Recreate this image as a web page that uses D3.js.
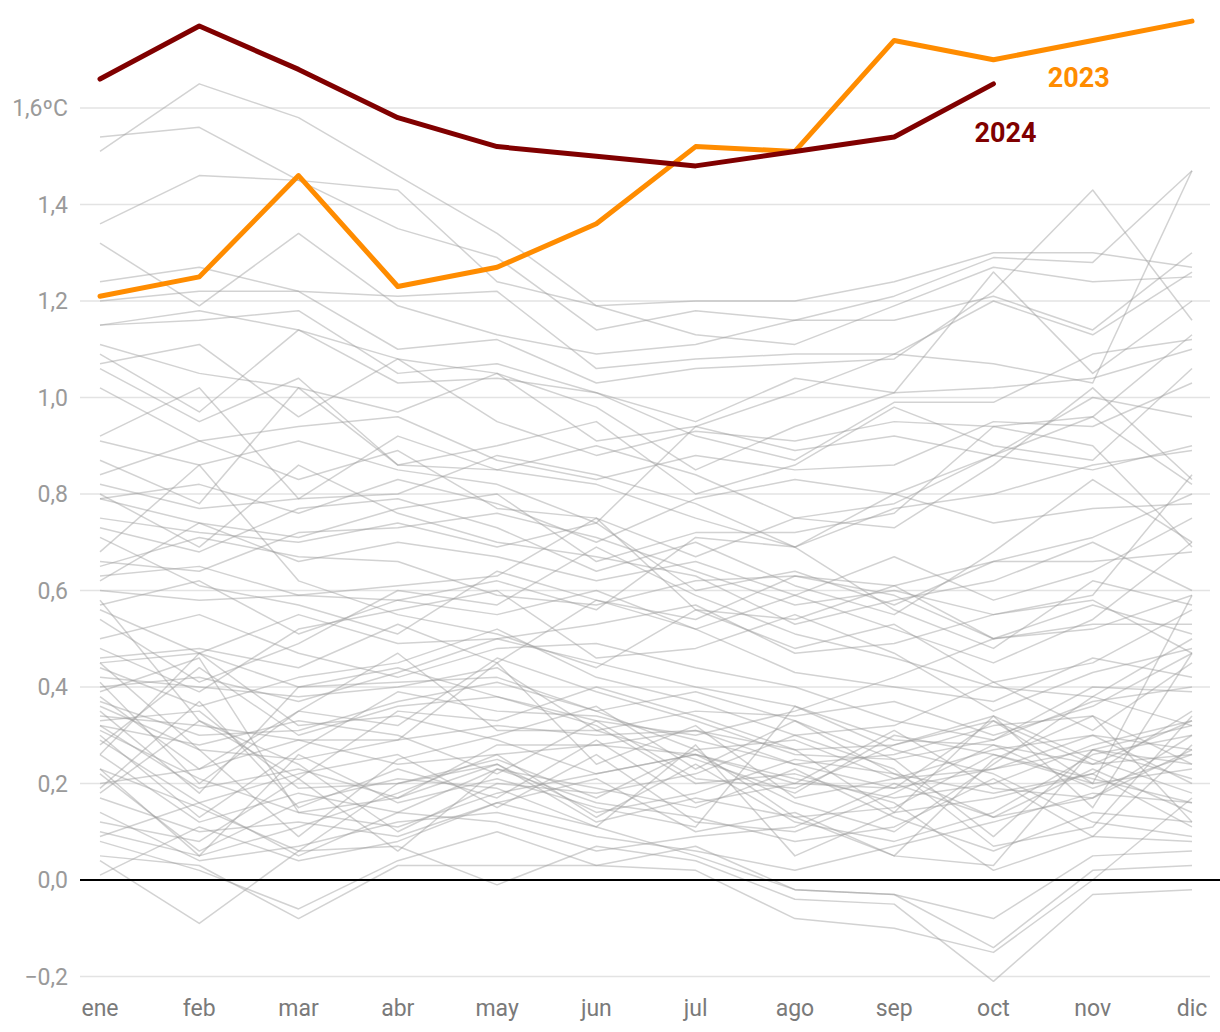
<!DOCTYPE html>
<html>
<head>
<meta charset="utf-8">
<script src="https://cdn.jsdelivr.net/npm/d3@7"></script>
<style>
  html, body { margin: 0; padding: 0; background: #fff; }
  svg { display: block; font-family: Roboto, "Noto Sans", sans-serif; }
</style>
</head>
<body>
<svg id="chart" width="1220" height="1032"></svg>
<script>
const months = ["ene","feb","mar","abr","may","jun","jul","ago","sep","oct","nov","dic"];
const yTicks = [-0.2, 0, 0.2, 0.4, 0.6, 0.8, 1.0, 1.2, 1.4, 1.6];
const yTickLabels = ["\u22120,2","0,0","0,2","0,4","0,6","0,8","1,0","1,2","1,4","1,6ºC"];

const values2023 = [1.21, 1.25, 1.46, 1.23, 1.27, 1.36, 1.52, 1.51, 1.74, 1.70, 1.74, 1.78];
const values2024 = [1.66, 1.77, 1.68, 1.58, 1.52, 1.50, 1.48, 1.51, 1.54, 1.65];

// Earlier years (grey background lines), ene..dic
const earlierYears = [
  [1.51, 1.65, 1.58, 1.46, 1.34, 1.19, 1.20, 1.20, 1.24, 1.30, 1.30, 1.27],
  [1.54, 1.56, 1.45, 1.35, 1.29, 1.14, 1.18, 1.16, 1.21, 1.29, 1.28, 1.47],
  [1.36, 1.46, 1.45, 1.43, 1.24, 1.19, 1.13, 1.11, 1.19, 1.27, 1.24, 1.25],
  [1.32, 1.19, 1.34, 1.19, 1.13, 1.09, 1.11, 1.16, 1.16, 1.21, 1.14, 1.30],
  [1.24, 1.27, 1.22, 1.21, 1.22, 1.06, 1.08, 1.09, 1.09, 1.20, 1.13, 1.26],
  [1.20, 1.22, 1.22, 1.10, 1.12, 1.03, 1.06, 1.07, 1.08, 1.22, 1.43, 1.16],
  [1.15, 1.16, 1.18, 1.05, 1.07, 1.01, 0.95, 1.04, 1.01, 1.26, 1.05, 1.20],
  [1.15, 1.18, 1.14, 1.08, 1.05, 0.91, 0.94, 1.01, 1.09, 1.07, 1.03, 1.47],
  [1.11, 1.05, 1.02, 0.97, 1.05, 0.98, 0.85, 0.94, 1.01, 1.02, 1.04, 1.10],
  [1.09, 0.97, 1.14, 1.03, 1.04, 1.01, 0.92, 0.87, 0.99, 0.99, 1.09, 1.12],
  [1.07, 1.11, 0.96, 1.08, 0.95, 0.88, 0.93, 0.91, 0.95, 0.94, 0.96, 1.13],
  [1.06, 0.95, 1.04, 0.86, 0.90, 0.95, 0.80, 0.86, 0.98, 0.90, 0.87, 1.06],
  [1.02, 0.91, 0.94, 0.96, 0.87, 0.83, 0.88, 0.85, 0.86, 0.95, 0.94, 1.03],
  [0.92, 1.02, 0.79, 0.92, 0.85, 0.90, 0.84, 0.75, 0.78, 0.88, 1.00, 0.96],
  [0.91, 0.86, 0.91, 0.85, 0.82, 0.74, 0.94, 0.89, 0.92, 0.88, 0.85, 0.90],
  [0.87, 0.78, 1.02, 0.86, 0.85, 0.82, 0.75, 0.69, 0.77, 0.80, 0.86, 0.89],
  [0.84, 0.91, 0.83, 0.89, 0.77, 0.75, 0.67, 0.75, 0.73, 0.86, 1.02, 0.83],
  [0.82, 0.77, 0.79, 0.80, 0.88, 0.84, 0.78, 0.69, 0.80, 0.74, 0.77, 0.78],
  [0.79, 0.82, 0.76, 0.83, 0.78, 0.70, 0.79, 0.83, 0.80, 0.88, 0.96, 0.82],
  [0.79, 0.74, 0.71, 0.77, 0.80, 0.66, 0.72, 0.72, 0.76, 0.94, 0.90, 0.69],
  [0.80, 0.69, 0.86, 0.76, 0.70, 0.67, 0.63, 0.53, 0.58, 0.62, 0.70, 0.60],
  [0.75, 0.72, 0.70, 0.74, 0.69, 0.74, 0.60, 0.64, 0.57, 0.66, 0.71, 0.80],
  [0.73, 0.68, 0.77, 0.79, 0.73, 0.64, 0.70, 0.61, 0.55, 0.68, 0.83, 0.70],
  [0.66, 0.64, 0.72, 0.73, 0.76, 0.71, 0.64, 0.57, 0.60, 0.55, 0.59, 0.84],
  [0.65, 0.71, 0.67, 0.66, 0.59, 0.57, 0.62, 0.63, 0.59, 0.50, 0.52, 0.59],
  [0.63, 0.65, 0.59, 0.61, 0.63, 0.75, 0.56, 0.54, 0.61, 0.66, 0.66, 0.68],
  [0.62, 0.74, 0.66, 0.70, 0.67, 0.62, 0.66, 0.59, 0.67, 0.58, 0.64, 0.75],
  [0.60, 0.58, 0.59, 0.58, 0.62, 0.56, 0.71, 0.69, 0.56, 0.48, 0.62, 0.57],
  [0.57, 0.62, 0.51, 0.58, 0.55, 0.60, 0.52, 0.59, 0.52, 0.45, 0.54, 0.70],
  [0.56, 0.47, 0.55, 0.49, 0.50, 0.53, 0.57, 0.47, 0.49, 0.55, 0.58, 0.47],
  [0.54, 0.41, 0.49, 0.60, 0.57, 0.69, 0.59, 0.51, 0.46, 0.40, 0.38, 0.50],
  [0.48, 0.39, 0.52, 0.56, 0.60, 0.46, 0.48, 0.55, 0.47, 0.35, 0.43, 0.48],
  [0.46, 0.48, 0.44, 0.53, 0.45, 0.58, 0.52, 0.43, 0.40, 0.37, 0.46, 0.42],
  [0.45, 0.47, 0.40, 0.44, 0.38, 0.33, 0.30, 0.35, 0.42, 0.50, 0.57, 0.51],
  [0.44, 0.36, 0.42, 0.45, 0.52, 0.42, 0.37, 0.30, 0.32, 0.41, 0.31, 0.45],
  [0.42, 0.40, 0.38, 0.40, 0.44, 0.31, 0.35, 0.34, 0.37, 0.30, 0.36, 0.47],
  [0.40, 0.42, 0.37, 0.43, 0.50, 0.45, 0.40, 0.36, 0.29, 0.28, 0.24, 0.33],
  [0.71, 0.61, 0.57, 0.51, 0.64, 0.58, 0.54, 0.63, 0.61, 0.50, 0.53, 0.53],
  [0.68, 0.86, 0.62, 0.55, 0.51, 0.44, 0.56, 0.48, 0.53, 0.41, 0.45, 0.56],
  [0.50, 0.55, 0.47, 0.42, 0.48, 0.49, 0.44, 0.40, 0.33, 0.29, 0.40, 0.39],
  [0.38, 0.23, 0.35, 0.32, 0.46, 0.39, 0.33, 0.26, 0.25, 0.29, 0.37, 0.40],
  [0.37, 0.30, 0.31, 0.37, 0.41, 0.35, 0.27, 0.29, 0.21, 0.27, 0.30, 0.27],
  [0.36, 0.27, 0.25, 0.29, 0.32, 0.30, 0.31, 0.24, 0.19, 0.23, 0.27, 0.32],
  [0.34, 0.32, 0.29, 0.24, 0.26, 0.28, 0.26, 0.21, 0.17, 0.20, 0.28, 0.33],
  [0.33, 0.35, 0.19, 0.20, 0.25, 0.17, 0.27, 0.13, 0.15, 0.26, 0.20, 0.23],
  [0.32, 0.28, 0.33, 0.30, 0.22, 0.33, 0.21, 0.19, 0.28, 0.34, 0.25, 0.18],
  [0.32, 0.19, 0.23, 0.17, 0.24, 0.14, 0.18, 0.25, 0.22, 0.18, 0.22, 0.35],
  [0.31, 0.21, 0.14, 0.11, 0.18, 0.22, 0.26, 0.16, 0.10, 0.24, 0.38, 0.32],
  [0.29, 0.16, 0.22, 0.26, 0.15, 0.26, 0.12, 0.10, 0.18, 0.28, 0.19, 0.26],
  [0.26, 0.12, 0.18, 0.14, 0.23, 0.19, 0.15, 0.23, 0.13, 0.06, 0.14, 0.12],
  [0.23, 0.05, 0.11, 0.18, 0.26, 0.13, 0.24, 0.12, 0.08, 0.14, 0.26, 0.30],
  [0.22, 0.06, 0.16, 0.21, 0.19, 0.11, 0.28, 0.05, 0.14, 0.17, 0.22, 0.11],
  [0.17, 0.10, 0.12, 0.09, 0.16, 0.21, 0.10, 0.14, 0.05, 0.03, 0.27, 0.24],
  [0.14, 0.04, 0.07, 0.12, 0.14, 0.09, 0.06, 0.02, 0.07, 0.12, 0.18, 0.16],
  [0.12, 0.08, 0.21, 0.06, 0.23, 0.16, 0.13, 0.08, 0.11, 0.21, 0.09, 0.08],
  [0.09, 0.16, 0.05, 0.14, 0.12, 0.06, 0.09, 0.11, 0.20, 0.13, 0.17, 0.27],
  [0.08, 0.02, -0.06, 0.04, 0.10, 0.03, 0.07, -0.02, -0.03, -0.08, 0.05, 0.06],
  [0.05, 0.03, -0.08, 0.03, 0.03, 0.03, 0.02, -0.08, -0.10, -0.15, 0.00, 0.17],
  [0.04, -0.09, 0.06, 0.07, -0.01, 0.07, 0.04, -0.04, -0.05, -0.21, -0.03, -0.02],
  [0.01, 0.11, 0.04, 0.08, 0.16, 0.11, 0.05, -0.02, -0.03, -0.14, 0.02, 0.03],
  [0.45, 0.27, 0.09, 0.25, 0.30, 0.36, 0.23, 0.33, 0.25, 0.09, 0.27, 0.21],
  [0.41, 0.20, 0.35, 0.47, 0.31, 0.31, 0.25, 0.18, 0.30, 0.26, 0.21, 0.16],
  [0.39, 0.46, 0.14, 0.17, 0.28, 0.28, 0.31, 0.27, 0.14, 0.34, 0.15, 0.47],
  [0.30, 0.13, 0.27, 0.39, 0.35, 0.34, 0.29, 0.24, 0.26, 0.32, 0.34, 0.12],
  [0.20, 0.23, 0.29, 0.29, 0.45, 0.24, 0.32, 0.17, 0.21, 0.23, 0.30, 0.20],
  [0.18, 0.33, 0.24, 0.10, 0.20, 0.18, 0.22, 0.30, 0.23, 0.07, 0.11, 0.34],
  [0.28, 0.44, 0.30, 0.36, 0.38, 0.32, 0.20, 0.22, 0.16, 0.02, 0.09, 0.28],
  [0.23, 0.15, 0.06, 0.20, 0.24, 0.12, 0.17, 0.13, 0.05, 0.25, 0.34, 0.24],
  [0.58, 0.33, 0.21, 0.35, 0.33, 0.40, 0.34, 0.27, 0.28, 0.33, 0.20, 0.59],
  [0.35, 0.18, 0.40, 0.41, 0.42, 0.35, 0.39, 0.33, 0.22, 0.13, 0.23, 0.14],
  [0.26, 0.47, 0.32, 0.34, 0.29, 0.22, 0.26, 0.20, 0.19, 0.33, 0.24, 0.26],
  [0.19, 0.37, 0.15, 0.23, 0.17, 0.29, 0.16, 0.20, 0.31, 0.19, 0.17, 0.30],
  [0.10, 0.05, 0.26, 0.16, 0.21, 0.15, 0.11, 0.36, 0.27, 0.22, 0.12, 0.09]
];

const svg = d3.select("#chart");

const x = d3.scalePoint().domain(months).range([100, 1192]);
const y = d3.scaleLinear().domain([-0.2, 1.6]).range([976.5, 108]);

// Gridlines
svg.append("g").selectAll("line")
  .data(yTicks.filter(d => d !== 0))
  .join("line")
  .attr("x1", 80).attr("x2", 1210)
  .attr("y1", d => y(d)).attr("y2", d => y(d))
  .attr("stroke", "#e3e3e3").attr("stroke-width", 1.5);

// Y axis labels
svg.append("g").selectAll("text")
  .data(yTicks)
  .join("text")
  .attr("x", 68)
  .attr("y", d => y(d))
  .attr("dy", "0.36em")
  .attr("text-anchor", "end")
  .attr("font-size", 23)
  .attr("fill", "#9a9a9a")
  .text((d, i) => yTickLabels[i]);

// X axis labels
svg.append("g").selectAll("text")
  .data(months)
  .join("text")
  .attr("x", d => x(d))
  .attr("y", 1016)
  .attr("text-anchor", "middle")
  .attr("font-size", 23)
  .attr("fill", "#7a7a7a")
  .text(d => d);

const line = d3.line()
  .x((d, i) => x(months[i]))
  .y(d => y(d));

// Grey lines
svg.append("g").selectAll("path")
  .data(earlierYears)
  .join("path")
  .attr("d", line)
  .attr("fill", "none")
  .attr("stroke", "#9c9c9c")
  .attr("stroke-opacity", 0.45)
  .attr("stroke-width", 1.5)
  .attr("stroke-linejoin", "round");

// Zero line
svg.append("line")
  .attr("x1", 80).attr("x2", 1220)
  .attr("y1", y(0)).attr("y2", y(0))
  .attr("stroke", "#000").attr("stroke-width", 2);

// 2023
svg.append("path")
  .datum(values2023)
  .attr("d", line)
  .attr("fill", "none")
  .attr("stroke", "#ff8c00")
  .attr("stroke-width", 5)
  .attr("stroke-linejoin", "round")
  .attr("stroke-linecap", "round");

// 2024
svg.append("path")
  .datum(values2024)
  .attr("d", line)
  .attr("fill", "none")
  .attr("stroke", "#800000")
  .attr("stroke-width", 5)
  .attr("stroke-linejoin", "round")
  .attr("stroke-linecap", "round");

// Labels
svg.append("text")
  .attr("x", x("nov") - 14).attr("y", y(1.7) + 27)
  .attr("text-anchor", "middle")
  .attr("font-size", 27).attr("font-weight", "bold")
  .attr("fill", "#ff8c00")
  .text("2023");

svg.append("text")
  .attr("x", x("oct") + 12).attr("y", y(1.65) + 58)
  .attr("text-anchor", "middle")
  .attr("font-size", 27).attr("font-weight", "bold")
  .attr("fill", "#800000")
  .text("2024");
</script>
</body>
</html>
